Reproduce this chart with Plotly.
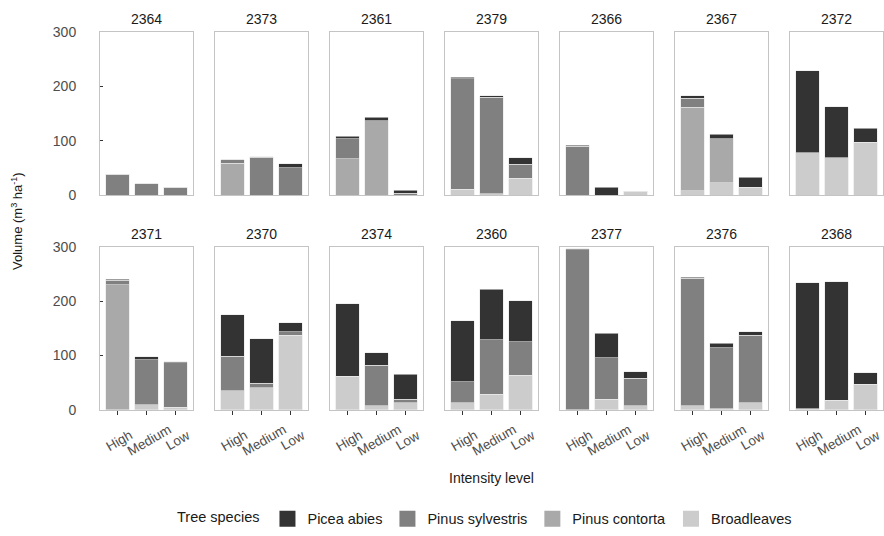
import plotly.graph_objects as go
from plotly.subplots import make_subplots

# Stand identifiers, one facet each (two rows of seven)
sites = ["2364", "2373", "2361", "2379", "2366", "2367", "2372",
         "2371", "2370", "2374", "2360", "2377", "2376", "2368"]
levels = ["High", "Medium", "Low"]

# Standing volume (m3/ha) per stand, ordered High, Medium, Low
broadleaves = [
    [0, 0, 0], [0, 0, 0], [0, 0, 0], [11, 3, 31], [0, 0, 7], [8, 23, 14.5], [78, 69, 97],
    [0, 10, 5.5], [35, 40.5, 137], [62, 8, 13], [13, 29, 64], [0, 20, 8], [8, 2, 13], [2, 18, 47],
]
pinus_contorta = [
    [0, 0, 0], [59, 0, 0], [67.5, 137, 0], [0, 0, 0], [0, 0, 0], [154, 80.6, 0], [0, 0, 0],
    [230, 0, 0], [0, 0, 0], [0, 0, 0], [0, 0, 0], [0, 0, 0], [0, 0, 0], [0, 0, 0],
]
pinus_sylvestris = [
    [39, 21, 15], [6, 69.5, 51], [36.5, 0, 4], [203.5, 177, 26], [90, 0, 0], [16, 0, 0], [0, 0, 0],
    [8, 82, 81], [64, 8.5, 7], [0, 74, 7], [38.5, 100.4, 61], [294, 76, 50], [233.7, 112.7, 124.4], [0, 0, 0],
]
picea_abies = [
    [0, 0, 0], [0, 1.5, 7], [4, 6, 5], [2.5, 2.5, 12], [2, 15, 0], [4.5, 8.4, 18.5], [151, 93.4, 26.4],
    [2.5, 6.2, 2.5], [76, 82, 16], [133, 23, 46], [112.5, 92.6, 76], [2.5, 45.4, 12.3], [2.3, 8, 6.6], [232, 217.6, 21],
]

# Stacking order bottom -> top; legend rank puts Picea abies first
species = [
    ("Broadleaves", broadleaves, "#cccccc", 4),
    ("Pinus contorta", pinus_contorta, "#a9a9a9", 3),
    ("Pinus sylvestris", pinus_sylvestris, "#808080", 2),
    ("Picea abies", picea_abies, "#333333", 1),
]

FONT = "Liberation Sans, Arial, sans-serif"
FS = 14
W, H = 884, 536
ML, MR, MT, MB = 100, 1, 32, 122
PW, PH = W - ML - MR, H - MT - MB

fig = make_subplots(
    rows=2, cols=7,
    horizontal_spacing=22 / PW,
    vertical_spacing=52 / PH,
    subplot_titles=sites,
)

for k, site in enumerate(sites):
    row, col = k // 7 + 1, k % 7 + 1
    for name, values, color, rank in species:
        fig.add_trace(
            go.Bar(
                x=levels, y=values[k], name=name,
                marker=dict(color=color, line=dict(color="#e6e6e6", width=0.6)),
                showlegend=False, legendgroup=name,
            ),
            row=row, col=col,
        )

# Legend keys drawn as large filled squares
for name, values, color, rank in species:
    fig.add_trace(
        go.Scatter(
            x=[None], y=[None], mode="markers", name=name,
            marker=dict(symbol="square", size=16, color=color),
            legendgroup=name, legendrank=rank, showlegend=True,
        ),
        row=1, col=1,
    )

frame = "#c4c4c4"
for k in range(len(sites)):
    row, col = k // 7 + 1, k % 7 + 1
    fig.update_xaxes(
        type="category", categoryorder="array", categoryarray=levels,
        range=[-0.6, 2.6], showline=True, mirror=True, linecolor=frame, linewidth=1,
        showgrid=False, zeroline=False, showticklabels=False,
        ticks="outside" if row == 2 else "", ticklen=4, tickwidth=1, tickcolor="#333333",
        row=row, col=col,
    )
    fig.update_yaxes(
        range=[0, 300], tickvals=[0, 100, 200, 300],
        showline=True, mirror=True, linecolor=frame, linewidth=1,
        showgrid=False, zeroline=False,
        showticklabels=(col == 1), ticks="inside" if col == 1 else "",
        ticklen=3, tickwidth=1, tickcolor="#333333", ticklabelstandoff=20,
        tickfont=dict(family=FONT, size=FS, color="#4d4d4d"),
        row=row, col=col,
    )

# Facet titles
for ann in fig.layout.annotations:
    ann.font = dict(family=FONT, size=FS, color="#1a1a1a")
    ann.yshift = 3

# Rotated intensity labels under each bottom-row facet
for k in range(7, 14):
    n = k + 1
    for lev in levels:
        fig.add_annotation(
            x=lev, xref=f"x{n}", y=0, yref=f"y{n} domain",
            text=lev, textangle=-30, showarrow=False,
            xanchor="center", yanchor="middle", xshift=2, yshift=-30,
            font=dict(family=FONT, size=FS - 0.5, color="#4d4d4d"),
        )

# Axis titles
fig.add_annotation(
    x=0.5, y=(MT + PH - 483) / PH, xref="paper", yref="paper",
    text="Intensity level", showarrow=False, xanchor="center", yanchor="middle",
    font=dict(family=FONT, size=FS, color="#1a1a1a"),
)
fig.add_annotation(
    x=(17 - ML) / PW, y=0.5, xref="paper", yref="paper",
    text="Volume (m<sup>3</sup> ha<sup>-1</sup>)", textangle=-90, showarrow=False,
    xanchor="center", yanchor="middle",
    font=dict(family=FONT, size=FS - 1, color="#1a1a1a"),
)

LEG_FONT = dict(family=FONT, size=14.5, color="#1a1a1a")
fig.update_layout(
    width=W, height=H,
    margin=dict(l=ML, r=MR, t=MT, b=MB),
    barmode="stack", bargap=0.2,
    paper_bgcolor="white", plot_bgcolor="white",
    font=dict(family=FONT, size=FS, color="#1a1a1a"),
    legend=dict(
        orientation="h", x=(486 - ML) / PW, xanchor="center",
        y=(MT + PH - 524) / PH, yanchor="middle",
        title=dict(text="Tree species", side="left", font=LEG_FONT),
        itemwidth=30, itemsizing="trace", itemclick=False,
        font=LEG_FONT,
    ),
)

fig.write_html("out.html")
